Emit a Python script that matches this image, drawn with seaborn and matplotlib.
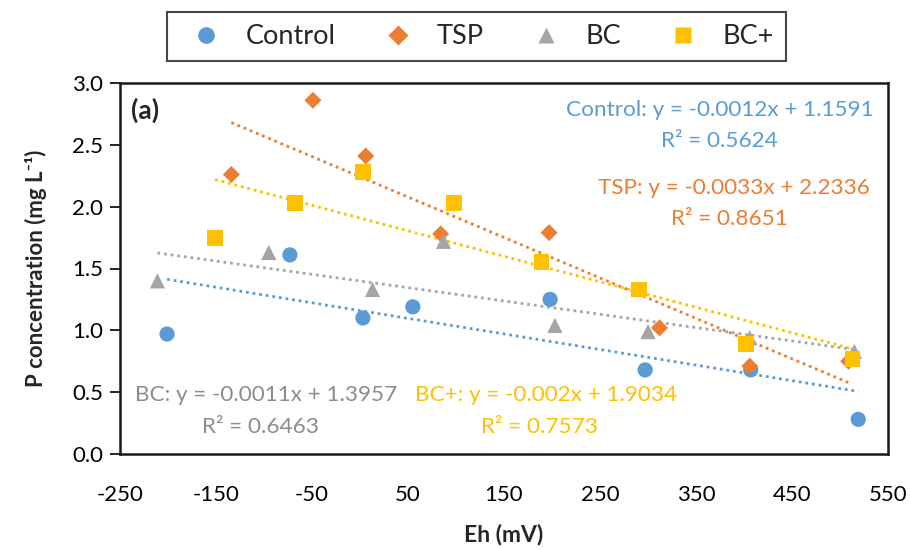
import numpy as np
import pandas as pd
import matplotlib
matplotlib.use("Agg")
import matplotlib.pyplot as plt
import seaborn as sns
from matplotlib.lines import Line2D

sns.set_theme(style="white")
plt.rcParams['font.family'] = ['Lato', 'DejaVu Sans']
plt.rcParams['axes.unicode_minus'] = False

series = ["Control", "TSP", "BC", "BC+"]
control_x = [-201, -73, 3, 55, 198, 297, 407, 519]
control_y = [0.97, 1.61, 1.10, 1.19, 1.25, 0.68, 0.68, 0.28]
tsp_x = [-134, -49, 6, 84, 197, 312, 406, 509]
tsp_y = [2.26, 2.86, 2.41, 1.78, 1.79, 1.02, 0.71, 0.75]
bc_x = [-211, -95, 13, 87, 203, 300, 406, 515]
bc_y = [1.40, 1.63, 1.33, 1.72, 1.04, 0.99, 0.94, 0.83]
bcp_x = [-151, -68, 3, 98, 189, 291, 402, 513]
bcp_y = [1.75, 2.03, 2.28, 2.03, 1.55, 1.33, 0.89, 0.77]

eq_texts = {
    "Control": ("Control: y = -0.0012x + 1.1591", "R² = 0.5624"),
    "TSP": ("TSP: y = -0.0033x + 2.2336", "R² = 0.8651"),
    "BC": ("BC: y = -0.0011x + 1.3957", "R² = 0.6463"),
    "BC+": ("BC+: y = -0.002x + 1.9034", "R² = 0.7573"),
}

colors = {"Control": "#5B9BD5", "TSP": "#ED7D31", "BC": "#A5A5A5", "BC+": "#FFC000"}
markers = {"Control": "o", "TSP": "D", "BC": "^", "BC+": "s"}
sizes = {"Control": 120, "TSP": 75, "BC": 120, "BC+": 130}

xs = {"Control": control_x, "TSP": tsp_x, "BC": bc_x, "BC+": bcp_x}
ys = {"Control": control_y, "TSP": tsp_y, "BC": bc_y, "BC+": bcp_y}

df = pd.concat([pd.DataFrame({"Eh": xs[s], "P": ys[s], "Treatment": s}) for s in series],
               ignore_index=True)

fig = plt.figure(figsize=(9.1, 5.5), dpi=100)
ax = fig.add_axes([120/910, 1-454/550, (888-120)/910, (454-83)/550])

for s in series:
    sub = df[df.Treatment == s]
    sns.regplot(data=sub, x="Eh", y="P", scatter=False, ci=None, ax=ax,
                line_kws=dict(color=colors[s], linestyle=(0, (1, 1.4)), linewidth=2.0))

for s in series:
    sub = df[df.Treatment == s]
    sns.scatterplot(data=sub, x="Eh", y="P", marker=markers[s], color=colors[s],
                    s=sizes[s], edgecolor="none", ax=ax, zorder=3, legend=False)

ax.set_xlim(-250, 550)
ax.set_ylim(0, 3.0)
ax.set_xticks(np.arange(-250, 551, 100))
ax.set_yticks(np.arange(0, 3.01, 0.5))
ax.set_yticklabels([f"{v:.1f}" for v in np.arange(0, 3.01, 0.5)])
ax.tick_params(axis='both', labelsize=16, colors="#000000")
ax.tick_params(axis='y', which='major', length=7, width=1.2, direction='out', left=True, pad=5)
ax.tick_params(axis='x', length=0, pad=22)
for sp in ax.spines.values():
    sp.set_color("#1a1a1a")
    sp.set_linewidth(1.8)
ax.set_xlabel("Eh (mV)", fontsize=16.5, fontweight="bold", labelpad=14)
ax.set_ylabel("P concentration (mg L⁻¹)", fontsize=16, fontweight="bold", labelpad=18)

ax.text(-239, 2.78, "(a)", fontsize=19, fontweight="bold", ha="left", va="center")

fs = 16.2
ax.text(375, 2.78, eq_texts["Control"][0], color=colors["Control"], fontsize=fs, ha="center", va="center")
ax.text(374, 2.53, eq_texts["Control"][1], color=colors["Control"], fontsize=fs, ha="center", va="center")
ax.text(389, 2.15, eq_texts["TSP"][0], color=colors["TSP"], fontsize=fs, ha="center", va="center")
ax.text(385, 1.90, eq_texts["TSP"][1], color=colors["TSP"], fontsize=fs, ha="center", va="center")
ax.text(-98, 0.48, eq_texts["BC"][0], color="#8c8c8c", fontsize=fs, ha="center", va="center")
ax.text(-104, 0.22, eq_texts["BC"][1], color="#8c8c8c", fontsize=fs, ha="center", va="center")
ax.text(194, 0.48, eq_texts["BC+"][0], color=colors["BC+"], fontsize=fs, ha="center", va="center")
ax.text(187, 0.22, eq_texts["BC+"][1], color=colors["BC+"], fontsize=fs, ha="center", va="center")

handles = [Line2D([0], [0], marker=markers[s], color="none", markerfacecolor=colors[s],
                  markeredgecolor="none", markersize=12 if s != "TSP" else 10, label=s)
           for s in series]
leg = fig.legend(handles=handles, loc="center", bbox_to_anchor=(476.5/910, 1-36.5/550), ncol=4,
                 frameon=True, fontsize=19.5, handlelength=2.0, handletextpad=0.45,
                 columnspacing=1.3, borderpad=0.45, fancybox=False, edgecolor="#1a1a1a")
leg.get_frame().set_linewidth(1.5)

fig.savefig("out.png", dpi=100)
